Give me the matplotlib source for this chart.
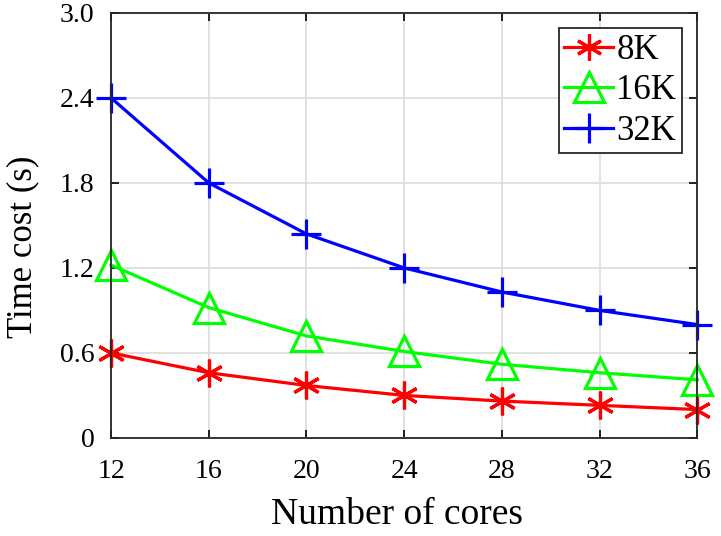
import matplotlib.pyplot as plt

plt.rcParams['font.family'] = ['Liberation Serif', 'DejaVu Serif']

cores = [12, 16, 20, 24, 28, 32, 36]
t_8k = [0.60, 0.46, 0.37, 0.30, 0.26, 0.23, 0.20]
t_16k = [1.22, 0.92, 0.72, 0.61, 0.52, 0.46, 0.41]
t_32k = [2.40, 1.80, 1.44, 1.20, 1.03, 0.90, 0.80]
labels = ['8K', '16K', '32K']

fig = plt.figure(figsize=(7.21, 5.36), dpi=100)
ax = fig.add_axes([0.154, 0.183, 0.813, 0.793])

# (6, 2, 0) -> six-spoke asterisk with a vertical spoke, like matlab '*'
ax.plot(cores, t_8k, color='#ff0000', lw=2.3, marker=(6, 2, 0), ms=20, mew=2.3,
        clip_on=False, label=labels[0])
ax.plot(cores, t_16k, color='#00ff00', lw=2.3, marker='^', ms=22, mew=2.3, mfc='none',
        clip_on=False, label=labels[1])
ax.plot(cores, t_32k, color='#0000ff', lw=2.3, marker='+', ms=22, mew=2.3,
        clip_on=False, label=labels[2])

ax.set_xlim(12, 36)
ax.set_ylim(0, 3.0)
ax.set_xticks(cores)
ax.set_yticks([0, 0.6, 1.2, 1.8, 2.4, 3.0])
ax.set_yticklabels(['0', '0.6', '1.2', '1.8', '2.4', '3.0'])
ax.grid(True, color='#dcdcdc', lw=1.2)
ax.set_axisbelow(True)
ax.tick_params(direction='in', top=True, right=True, labelsize=20, length=6, width=1.2)
ax.tick_params(axis='x', pad=15)
ax.tick_params(axis='y', pad=12)
for s in ax.spines.values():
    s.set_linewidth(1.3)
    s.set_color('#262626')

ax.set_xlabel('Number of cores', fontsize=27)
ax.set_ylabel('Time cost (s)', fontsize=25)
ax.xaxis.set_label_coords(0.488, -0.14)
ax.yaxis.set_label_coords(-0.123, 0.45)

leg = ax.legend(loc='upper right', fontsize=25, fancybox=False, edgecolor='#262626',
                handlelength=1.4, handletextpad=0.1, borderpad=0.15, labelspacing=0.22,
                borderaxespad=0.45, markerscale=0.95)
leg.get_frame().set_linewidth(1.3)
leg.get_frame().set_alpha(1)

fig.savefig('out.png', dpi=100)
